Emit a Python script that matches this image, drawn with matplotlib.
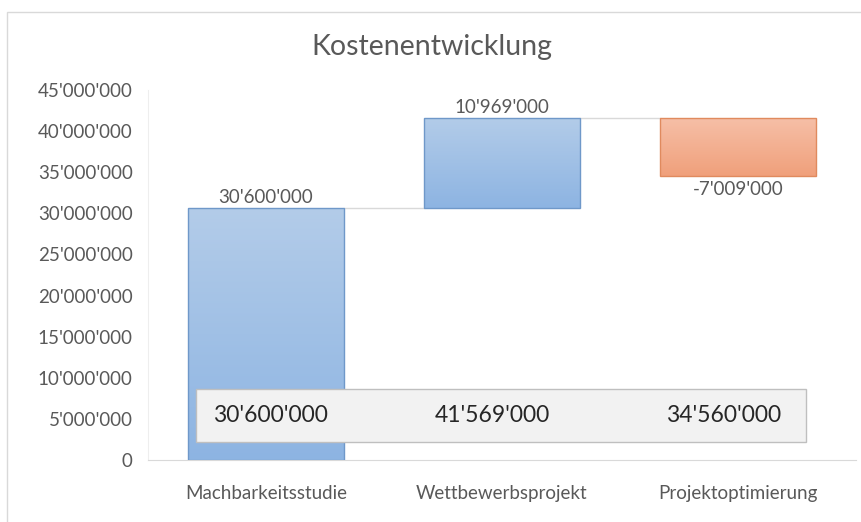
import numpy as np
import matplotlib.pyplot as plt
from matplotlib.patches import Rectangle
from matplotlib.ticker import FuncFormatter, MultipleLocator
from matplotlib.colors import LinearSegmentedColormap

plt.rcParams['font.family'] = ['Lato', 'DejaVu Sans']

# Daten
categories = ["Machbarkeitsstudie", "Wettbewerbsprojekt", "Projektoptimierung"]
changes = [30600000, 10969000, -7009000]
totals = [30600000, 41569000, 34560000]
title = "Kostenentwicklung"


def swiss(v, pos=None):
    return f"{int(v):,}".replace(",", "'")


fig = plt.figure(figsize=(8.61, 5.22), dpi=100)
ax = fig.add_axes([148 / 861, 1 - 460 / 522, 708 / 861, 370 / 522])

# Rahmen des Diagramms
fig.patches.append(Rectangle((7 / 861, -0.1), 1.2, 1 - 12 / 522 + 0.1,
                             transform=fig.transFigure, fill=False,
                             edgecolor='#d9d9d9', linewidth=1.0))

blue = LinearSegmentedColormap.from_list("b", ["#8db4e2", "#b3cce9"])
orange = LinearSegmentedColormap.from_list("o", ["#f0a07b", "#f6bfa7"])
grad = np.linspace(0, 1, 256).reshape(-1, 1)

width = 0.665
starts = [t - c for t, c in zip(totals, changes)]
for i, (s, c, t) in enumerate(zip(starts, changes, totals)):
    lo, hi = min(s, t), max(s, t)
    pos = c >= 0
    cmap = blue if pos else orange
    edge = '#6f98c9' if pos else '#e08a5e'
    bar = ax.bar(i, hi - lo, bottom=lo, width=width, facecolor='none',
                 edgecolor=edge, linewidth=1.0, zorder=3)[0]
    im = ax.imshow(grad, cmap=cmap, aspect='auto', origin='lower',
                   extent=[i - width / 2, i + width / 2, lo, hi], zorder=2)
    im.set_clip_path(bar)
    # Beschriftung
    if pos:
        ax.text(i, hi + 250000, swiss(c), ha='center', va='bottom',
                fontsize=13.5, color='#595959')
    else:
        ax.text(i, lo - 650000, swiss(c), ha='center', va='top',
                fontsize=13.5, color='#595959')

# Verbindungslinien
for i in range(len(totals) - 1):
    ax.plot([i + width / 2, i + 1 - width / 2], [totals[i], totals[i]],
            color='#d9d9d9', linewidth=1.0, zorder=1)

# Kasten mit Summen
ax.add_patch(Rectangle((-0.297, 2190000), 2.585, 6450000, facecolor='#f2f2f2',
                       edgecolor='#bfbfbf', linewidth=1.0, zorder=4))
offsets = [0.02, -0.04, -0.06]
for i, t in enumerate(totals):
    ax.text(i + offsets[i], 5400000, swiss(t), ha='center', va='center',
            fontsize=16.5, color='#262626', zorder=5)

ax.set_xlim(-0.5, 2.5)
ax.set_ylim(0, 45000000)
ax.yaxis.set_major_locator(MultipleLocator(5000000))
ax.yaxis.set_major_formatter(FuncFormatter(swiss))
ax.set_xticks(range(len(categories)))
ax.set_xticklabels(categories)
ax.tick_params(axis='both', length=0, labelsize=13.5, labelcolor='#595959')
ax.tick_params(axis='x', pad=18)
ax.tick_params(axis='y', pad=11)
for sp in ['top', 'right']:
    ax.spines[sp].set_visible(False)
ax.spines['left'].set_color('#eeeeee')
ax.spines['bottom'].set_color('#d9d9d9')

fig.text(432 / 861, 1 - 47 / 522, title, ha='center', va='center',
         fontsize=20.5, color='#595959')

plt.savefig("out.png", dpi=100)
